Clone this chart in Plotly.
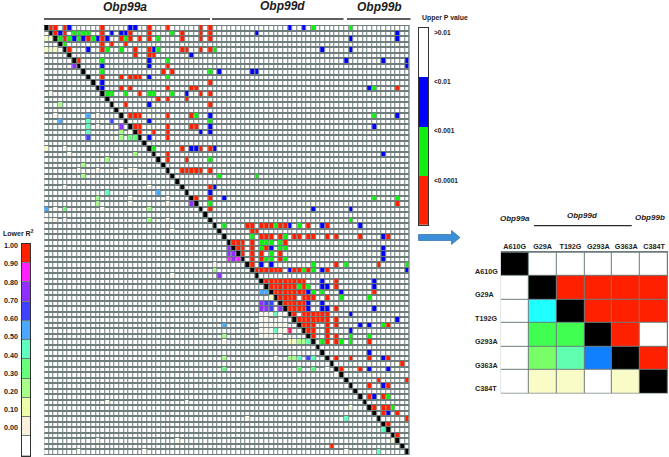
import plotly.graph_objects as go

W, H = 669, 457
N = 78
SITES = ["A610G", "G29A", "T192G", "G293A", "G363A", "C384T"]
P_LABELS = [">0.01", "<0.01", "<0.001", "<0.0001"]
R2_LABELS = ["1.00", "0.90", "0.80", "0.70", "0.60", "0.50", "0.40", "0.30", "0.20", "0.10", "0.00"]

# Upper triangle: p-value class, {row: [columns]}
P_RED = {0:[1,2,4,12,22,26,33,35],1:[2,4,12,18,22,29,33,35],2:[4,9,12,16,18,20,22,29,33,35],3:[12,14,17],
 4:[5,12,19,22,29,30,33,35],5:[19,22,23],6:[7],7:[26],8:[25,27],9:[12,16,18,19,20],10:[35],11:[16,18,26,31,32,75],
 12:[20,33,35],13:[24,26,30],14:[17,35],16:[18,19,20,26,31],18:[19,20,26,31,32],19:[20,23,26],20:[26],22:[29,33,35],
 23:[26],24:[26,30],26:[29,30,31,32,33,35],29:[35],31:[32,35],32:[75],33:[35],36:[43,44,46,47,48,50,51,56,60],
 37:[44,45],38:[46,47,48,50,53,54,56,57,60,62,67,73],39:[40,41,42,44,51],40:[41,42,44,47],41:[42,44,46,50],
 42:[44,46,50],43:[44,62,71],44:[45,46,47,48,49,50,53,54,56,60],46:[47,48,49,50,51,52,53,54,55,62],
 47:[48,49,50,51,52,53,55,62],48:[49,50,51,52,53,54,55,70],49:[50,51,52,53,55,56,57,60],50:[51,52,53,54,55],
 51:[52,53,54,55,62],52:[53,55,56,57,58,59,60],53:[54,55,56,57,58,59,60,62],54:[55,56,57,60,62,73],55:[56,57,60],
 56:[57,60,62],57:[60,62,69],60:[62,65,69,73],61:[76],62:[63,67],64:[71,77],65:[69,73],67:[69,72],69:[70,72,73],
 70:[72,75],71:[77],72:[73],74:[75]}
P_GREEN = {0:[57,65],1:[6,7,8,9,27],2:[3,5,7,10,17,24],3:[4],4:[13,16,24,36],6:[12,26],8:[12,35],9:[26],11:[70],
 12:[13,14,17,22,23,27],16:[32,70],17:[35],22:[23],24:[35],27:[37,45],31:[70,75],32:[35],35:[65],36:[38,49,54],
 38:[44,51],39:[46,47,48,50],40:[46,50,51],41:[48],42:[47,48,51],43:[57,64,77],44:[55,57],47:[54,56],48:[57,59],
 49:[63,69],54:[72],56:[65,69],57:[59,63,65],67:[73],69:[74]}
P_BLUE = {0:[5,18,19,52,55],1:[3,14,16,17,45,75],2:[6,8,11,13,65,75],4:[9,23,59,65],5:[31],6:[22,64,72,77],
 7:[12,22,77],8:[37,44,45],9:[22],10:[12],11:[12,69],12:[30],14:[22],16:[35,75],17:[22],18:[35,70],19:[33,35],20:[22],
 22:[31,32,36],23:[72],29:[36],30:[35],31:[38],33:[57,65],36:[52,59,67],38:[72],40:[48,72],41:[72],42:[72],43:[46,48],
 44:[52,59,77],46:[59,70],47:[59,60,70],48:[56,63],50:[56,59],51:[56,59,60,70],52:[65],53:[75],54:[67,69],55:[65],
 59:[69],60:[72],62:[69,73],65:[72],67:[70],70:[73]}

# Lower triangle: r-squared class, {row: [columns]}
R2_10 = {12:[1],16:[2,11],18:[11],19:[18],22:[4],23:[5],26:[7,11,16,18,19],29:[4,22],31:[18,26],32:[18,26],33:[2,12],
 35:[0,1,2,4,26],37:[27],43:[36],45:[27],50:[36],52:[46,47,48,50,51],53:[46,47,50],54:[46,47,48,49,50,51],
 55:[46,47,48,50,51],56:[46,47,48,49,50],57:[38,49],60:[49],62:[60],63:[62],68:[13,30],71:[43],75:[11,28],77:[7,21,64]}
R2_20 = {2:[0,1],4:[0,1,2],22:[0],49:[48],57:[52,53],69:[65],75:[74]}
R2_30 = {14:[3],19:[16],20:[16],23:[19],24:[13],25:[8],27:[8],31:[11],32:[11],33:[22],35:[22],44:[36],56:[38],57:[54,55],
 60:[38,52,53]}
R2_40 = {20:[18,19],33:[4],62:[38,54,57]}
R2_50 = {17:[9],18:[9],19:[9],30:[13],52:[49],55:[49],57:[56],60:[54,57],71:[64],73:[72],77:[71]}
R2_60 = {16:[9],17:[3],30:[24],33:[0],48:[46,47],54:[38]}
R2_70 = {17:[14],20:[9],50:[47,48],51:[48],60:[56]}
R2_80 = {7:[6],18:[16],32:[31],40:[39],41:[39,40],42:[40],45:[37],50:[46],51:[46,47,50]}
R2_90 = {42:[39,41]}
R2_95 = {55:[52]}
R2_100 = {76:[61]}

# Inset: class index per cell
INSET = [
 ["K","W","W","W","W","W"],
 ["W","K","R","R","R","R"],
 ["W","C","K","R","R","R"],
 ["W","G","G","K","R","W"],
 ["W","L","T","B","K","R"],
 ["W","Y","Y","W","Y","K"],
]

COLORS = ["#ffffff", "#000000", "#0000ff", "#11ee11", "#ff2000",
          "#fdf9ee", "#f6fcc4", "#a8ff88", "#66ff7c", "#60ffc0",
          "#4aa8ff", "#4040ff", "#9030ff", "#ff20ff", "#f02060"]
IDX = dict(W=0, K=1, B=2, G=3, R=4, V10=5, V20=6, V30=7, V40=8, V50=9, V60=10, V70=11, V80=12, V90=13, V95=14)
INSET_COLORS = {"W":"#ffffff","K":"#000000","R":"#ff2000","C":"#20ffff","G":"#40ff50",
                "L":"#78ff68","T":"#60ffb0","B":"#1080ff","Y":"#fafcc8"}
GRID = "#6e7c7c"
TXT = "#1c1c1c"
FONT = "Liberation Sans"

def scale(colors):
    n = len(colors)
    out = []
    for i, c in enumerate(colors):
        out += [[i / n, c], [(i + 1) / n, c]]
    return out

CS = scale(COLORS)
ZKW = dict(zmin=-0.5, zmax=len(COLORS) - 0.5, colorscale=CS, showscale=False, hoverinfo="skip")

z = [[None] * N for _ in range(N)]
for i in range(N):
    z[i][i] = IDX["K"]
for table, key in [(P_RED,"R"),(P_GREEN,"G"),(P_BLUE,"B"),(R2_10,"V10"),(R2_20,"V20"),(R2_30,"V30"),(R2_40,"V40"),
                   (R2_50,"V50"),(R2_60,"V60"),(R2_70,"V70"),(R2_80,"V80"),(R2_90,"V90"),(R2_95,"V95"),(R2_100,"R")]:
    for r, cols in table.items():
        for c in cols:
            z[r][c] = IDX[key]

def px(x): return x / W
def py(y): return 1 - y / H

fig = go.Figure()
# main matrix: white cells over the grey background, then the coloured ones
fig.add_trace(go.Heatmap(z=[[0] * N for _ in range(N)], xgap=1, ygap=2, **ZKW))
fig.add_trace(go.Heatmap(z=z, xgap=1, ygap=1, **ZKW))

# p-value legend
fig.add_trace(go.Heatmap(z=[[IDX["W"]], [IDX["B"]], [IDX["G"]], [IDX["R"]]], xaxis="x2", yaxis="y2", **ZKW))

# r2 legend
R2_SEG = scale(["#ff2000","#ff20ff","#9030ff","#4040ff","#4aa8ff","#60ffc0","#66ff7c","#a8ff88","#ecffa8","#fbf0dc","#ffffff"])
fig.add_trace(go.Heatmap(z=[[i] for i in range(len(R2_LABELS))], xaxis="x3", yaxis="y3", ygap=1, zmin=-0.5,
                         zmax=len(R2_LABELS) - 0.5, colorscale=R2_SEG, showscale=False, hoverinfo="skip"))

# inset
keys = list(INSET_COLORS)
fig.add_trace(go.Heatmap(z=[[keys.index(k) for k in row] for row in INSET], x=SITES, y=SITES, xaxis="x4", yaxis="y4",
                         xgap=1, ygap=1, zmin=-0.5, zmax=len(keys) - 0.5,
                         colorscale=scale([INSET_COLORS[k] for k in keys]), showscale=False, hoverinfo="skip"))

hidden = dict(showticklabels=False, ticks="", showgrid=False, zeroline=False)
box = dict(showline=True, mirror=True, linecolor="#333333", linewidth=1)
fig.update_layout(
    width=W, height=H, margin=dict(l=0, r=0, t=0, b=0), autosize=False,
    paper_bgcolor="white", plot_bgcolor=GRID, showlegend=False,
    xaxis=dict(domain=[px(44.2), px(409.6)], range=[-0.5, N - 0.5], **hidden),
    yaxis=dict(domain=[py(455), py(25)], range=[N - 0.5, -0.5], **hidden),
    xaxis2=dict(domain=[px(419), px(428)], anchor="y2", range=[-0.5, 0.5], **hidden, **box),
    yaxis2=dict(domain=[py(224.5), py(28)], anchor="x2", range=[3.5, -0.5], **hidden, **box),
    xaxis3=dict(domain=[px(22), px(30)], anchor="y3", range=[-0.5, 0.5], **hidden, **box),
    yaxis3=dict(domain=[py(455.5), py(244)], anchor="x3", range=[10.5, -0.5], **hidden, **box),
    xaxis4=dict(domain=[px(500.8), px(668)], anchor="y4", side="top", type="category", ticks="", ticklen=0,
                showgrid=False, zeroline=False, tickangle=0,
                tickfont=dict(family=FONT, size=7.2, color=TXT, weight="bold")),
    yaxis4=dict(domain=[py(393.5), py(251)], anchor="x4", type="category", autorange="reversed",
                showticklabels=False, ticks="", showgrid=False, zeroline=False),
)

def label(text, x, y, size=7, anchor="left", italic=False):
    fig.add_annotation(text=text, x=px(x), y=py(y), xref="paper", yref="paper", xanchor=anchor, yanchor="middle",
                       showarrow=False, align="left",
                       font=dict(family=FONT, size=size, color=TXT, weight="bold",
                                 style="italic" if italic else "normal"))

label("Obp99a", 125, 7, 12, "center", True)
label("Obp99d", 282, 6, 12, "center", True)
label("Obp99b", 379, 6.5, 12, "center", True)
label("Upper P value", 420, 18, 6.9)
for t, y in zip(P_LABELS, [32, 82, 130.7, 180]):
    label(t, 432, y, 6.6)
label("Lower R<sup>2</sup>", 1, 233, 7)
for i, t in enumerate(R2_LABELS):
    label(t, 2, 245.7 + 18.22 * i, 7.2)
label("Obp99a", 515, 218, 8, "center", True)
label("Obp99d", 582.5, 215.7, 8, "center", True)
label("Obp99b", 649.5, 217.7, 8, "center", True)
for s in SITES:
    fig.add_annotation(text=s, x=px(473), y=s, xref="paper", yref="y4", xanchor="left", yanchor="middle", yshift=-7,
                       showarrow=False, font=dict(family=FONT, size=7.2, color=TXT, weight="bold"))

for x0, x1, y in [(44, 210, 19), (212, 343.5, 19), (347, 410.5, 19), (534, 631.7, 225.7)]:
    fig.add_shape(type="line", xref="paper", yref="paper", x0=px(x0), x1=px(x1), y0=py(y), y1=py(y),
                  line=dict(color="#2a2a2a", width=1.3))

arrow = [(418.5, 234.5), (451.5, 234.5), (451.5, 230.5), (460, 237.5), (451.5, 244.5), (451.5, 240.5), (418.5, 240.5)]
path = "M " + " L ".join(f"{px(a):.5f},{py(b):.5f}" for a, b in arrow) + " Z"
fig.add_shape(type="path", xref="paper", yref="paper", path=path, fillcolor="#3b8fd8", line=dict(color="#2f6fa8", width=0.7))

fig.write_html("out.html", config=dict(displayModeBar=False),
               post_script="document.body.style.margin='0';document.documentElement.style.overflow='hidden';")
